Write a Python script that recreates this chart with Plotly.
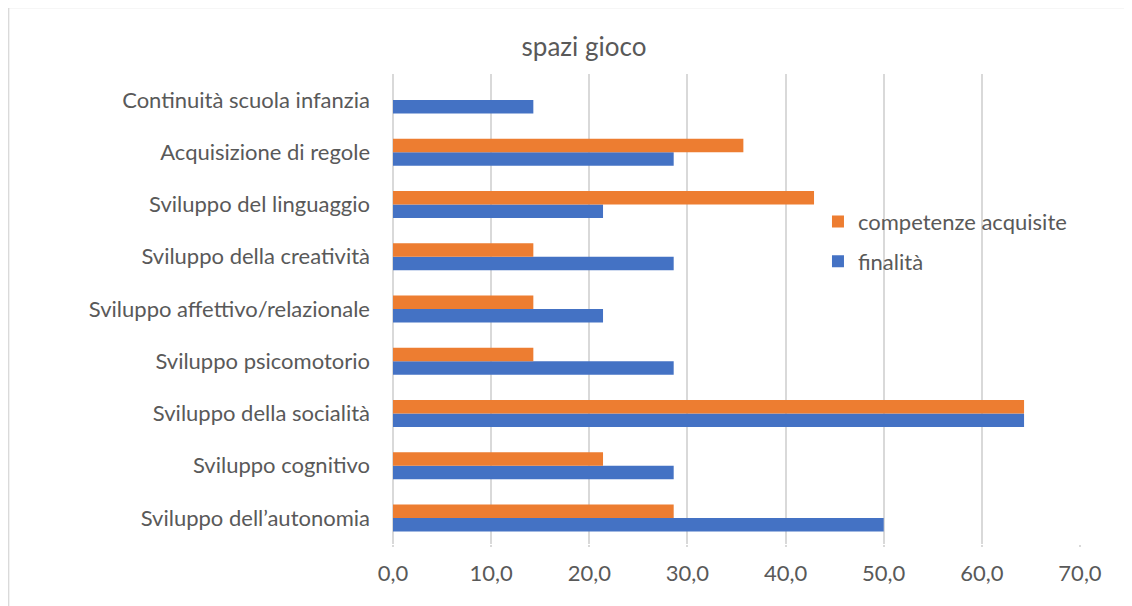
import plotly.graph_objects as go

categories = [
    "Sviluppo dell’autonomia",
    "Sviluppo cognitivo",
    "Sviluppo della socialità",
    "Sviluppo psicomotorio",
    "Sviluppo affettivo/relazionale",
    "Sviluppo della creatività",
    "Sviluppo del linguaggio",
    "Acquisizione di regole",
    "Continuità scuola infanzia",
]
finalita = [50.0, 28.6, 64.3, 28.6, 21.4, 28.6, 21.4, 28.6, 14.3]
competenze = [28.6, 21.4, 64.3, 14.3, 14.3, 14.3, 42.9, 35.7, 0.0]
x_ticks = [0, 10, 20, 30, 40, 50, 60, 70]

TXT = "#595959"
FONT = "Lato"
W, H = 1124, 598

fig = go.Figure()
fig.add_trace(go.Bar(y=categories, x=finalita, orientation="h", name="finalità",
                     marker=dict(color="#4472C4", line=dict(width=0)),
                     legendgroup="g2", legendrank=2))
fig.add_trace(go.Bar(y=categories, x=competenze, orientation="h", name="competenze acquisite",
                     marker=dict(color="#ED7D31", line=dict(width=0)),
                     legendgroup="g1", legendrank=1))

fig.update_layout(
    width=W, height=H,
    margin=dict(l=385, r=52, t=66, b=62),
    paper_bgcolor="white", plot_bgcolor="white",
    barmode="group", bargap=0.483, bargroupgap=0,
    separators=",.",
    font=dict(family=FONT, color=TXT, size=22),
    title=dict(text="spazi gioco", x=(584 - 8) / W, xanchor="center",
               y=1 - 39 / H, yref="container", yanchor="middle",
               font=dict(size=26, color=TXT, family=FONT)),
    legend=dict(x=0.6186, y=0.643, xanchor="left", yanchor="middle",
                traceorder="grouped", tracegroupgap=8,
                font=dict(size=22, color=TXT, family=FONT), bgcolor="rgba(0,0,0,0)"),
    xaxis=dict(range=[0, 70], tickvals=x_ticks, tickformat=".1f",
               showgrid=True, gridcolor="#D9D9D9", gridwidth=1.5,
               zeroline=True, zerolinecolor="#D9D9D9", zerolinewidth=1.5,
               ticks="outside", ticklen=2, tickcolor="#D9D9D9", tickwidth=1.5,
               ticklabelstandoff=8,
               showline=False, tickfont=dict(size=22, color=TXT), fixedrange=True),
    yaxis=dict(showgrid=False, zeroline=False, showline=False, ticks="",
               ticklabelstandoff=22, tickfont=dict(size=22, color=TXT), fixedrange=True),
    shapes=[dict(type="rect", xref="paper", yref="paper",
                 x0=(0.7 - 385) / 687, x1=1.2, y0=-0.3, y1=(536 + 0.5) / 470,
                 line=dict(color="#D9D9D9", width=1.3), fillcolor="rgba(0,0,0,0)", layer="below")],
)

fig.write_html("out.html")
